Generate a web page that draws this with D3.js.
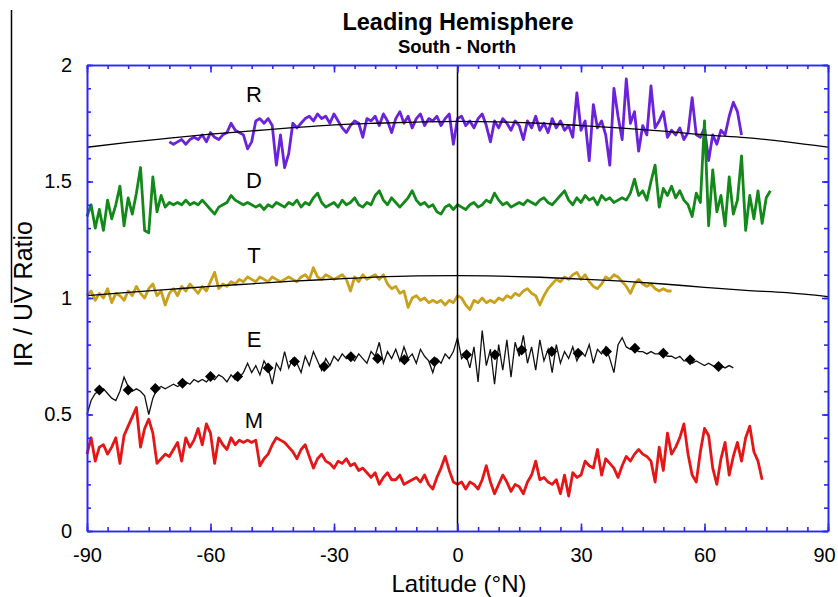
<!DOCTYPE html>
<html>
<head>
<meta charset="utf-8">
<script src="https://cdn.jsdelivr.net/npm/d3@7"></script>
<style>
  body { margin: 0; background: #fff; }
  svg { display: block; font-family: "Liberation Sans", Arial, sans-serif; }
</style>
</head>
<body>
<div id="chart-container"></div>
<script>
/**************************************************
 * Data (IR / UV ratio vs latitude, 1 deg sampling)
 **************************************************/

const rStart = -70;
const rValues = [
  1.67, 1.66, 1.67, 1.68, 1.66, 1.68, 1.69, 1.68, 1.70, 1.67,
  1.71, 1.69, 1.68, 1.70, 1.71, 1.75, 1.72, 1.71, 1.70, 1.64,
  1.67, 1.76, 1.77, 1.75, 1.77, 1.74, 1.57, 1.70, 1.56, 1.62,
  1.75, 1.73, 1.75, 1.77, 1.78, 1.76, 1.79, 1.77, 1.78, 1.75,
  1.79, 1.76, 1.73, 1.71, 1.74, 1.76, 1.75, 1.69, 1.77, 1.76,
  1.78, 1.74, 1.79, 1.76, 1.71, 1.77, 1.80, 1.75, 1.78, 1.73,
  1.77, 1.79, 1.74, 1.77, 1.76, 1.78, 1.74, 1.77, 1.79, 1.66,
  1.77, 1.78, 1.74, 1.76, 1.73, 1.77, 1.79, 1.74, 1.67, 1.76,
  1.73, 1.77, 1.75, 1.72, 1.76, 1.74, 1.68, 1.76, 1.73, 1.78,
  1.72, 1.75, 1.71, 1.77, 1.73, 1.76, 1.72, 1.74, 1.69, 1.88,
  1.72, 1.76, 1.59, 1.83, 1.73, 1.76, 1.70, 1.57, 1.90, 1.78,
  1.68, 1.94, 1.75, 1.80, 1.63, 1.74, 1.70, 1.91, 1.73, 1.76,
  1.80, 1.69, 1.72, 1.70, 1.73, 1.68, 1.71, 1.86, 1.70, 1.69,
  1.73, 1.59, 1.70, 1.66, 1.72, 1.70, 1.78, 1.84, 1.80, 1.70
];

const dStart = -90;
const dValues = [
  1.35, 1.40, 1.30, 1.38, 1.29, 1.42, 1.34, 1.40, 1.48, 1.31,
  1.43, 1.36, 1.45, 1.56, 1.29, 1.28, 1.52, 1.37, 1.44, 1.39,
  1.41, 1.40, 1.41, 1.40, 1.42, 1.40, 1.41, 1.40, 1.42, 1.40,
  1.38, 1.36, 1.39, 1.40, 1.41, 1.44, 1.42, 1.41, 1.40, 1.41,
  1.40, 1.39, 1.40, 1.38, 1.40, 1.39, 1.41, 1.40, 1.39, 1.41,
  1.40, 1.42, 1.39, 1.41, 1.40, 1.43, 1.45, 1.41, 1.39, 1.40,
  1.41, 1.39, 1.42, 1.40, 1.41, 1.43, 1.40, 1.39, 1.41, 1.40,
  1.44, 1.46, 1.42, 1.40, 1.43, 1.41, 1.39, 1.41, 1.43, 1.46,
  1.42, 1.40, 1.41, 1.39, 1.40, 1.37, 1.36, 1.39, 1.40, 1.38,
  1.40, 1.39, 1.38, 1.40, 1.41, 1.39, 1.40, 1.42, 1.41, 1.45,
  1.42, 1.40, 1.41, 1.39, 1.40, 1.41, 1.40, 1.42, 1.41, 1.40,
  1.42, 1.43, 1.41, 1.40, 1.42, 1.44, 1.46, 1.42, 1.40, 1.43,
  1.41, 1.44, 1.42, 1.43, 1.40, 1.44, 1.42, 1.43, 1.41, 1.42,
  1.43, 1.42, 1.45, 1.51, 1.44, 1.46, 1.42, 1.50, 1.57, 1.39,
  1.47, 1.44, 1.48, 1.43, 1.46, 1.42, 1.40, 1.35, 1.45, 1.41,
  1.76, 1.31, 1.55, 1.37, 1.44, 1.31, 1.52, 1.36, 1.42, 1.61,
  1.29, 1.44, 1.34, 1.46, 1.32, 1.43, 1.46
];

const tStart = -90;
const tValues = [
  1.01, 1.03, 0.99, 1.02, 1.00, 1.04, 0.98, 1.02, 1.01, 0.99,
  1.03, 1.01, 1.05, 1.02, 1.00, 1.04, 1.06, 1.01, 1.03, 0.97,
  1.02, 1.04, 1.01, 1.05, 1.03, 1.06, 1.04, 1.02, 1.05, 1.03,
  1.07, 1.11, 1.04, 1.06, 1.05, 1.07, 1.06, 1.08, 1.07, 1.09,
  1.08, 1.07, 1.09, 1.08, 1.07, 1.09, 1.08, 1.07, 1.08, 1.09,
  1.08, 1.07, 1.09, 1.10, 1.08, 1.13, 1.09, 1.08, 1.10, 1.09,
  1.08, 1.09, 1.10, 1.08, 1.03, 1.09, 1.07, 1.10, 1.08, 1.09,
  1.10, 1.08, 1.10, 1.06, 1.04, 1.05, 1.02, 1.03, 0.96, 1.00,
  1.01, 0.99, 1.00, 0.98, 0.99, 0.98, 0.99, 0.97, 0.99, 0.98,
  1.01, 1.00, 0.97, 0.95, 0.99, 0.98, 1.00, 0.98, 0.99, 0.98,
  1.00, 0.99, 1.01, 1.00, 1.02, 1.01, 1.03, 1.04, 1.02, 1.01,
  0.97, 1.01, 1.04, 1.06, 1.08, 1.07, 1.09, 1.08, 1.10, 1.11,
  1.08, 1.10, 1.07, 1.05, 1.04, 1.06, 1.09, 1.08, 1.10, 1.09,
  1.07, 1.05, 1.02, 1.06, 1.08, 1.06, 1.05, 1.06, 1.04, 1.03,
  1.04, 1.03, 1.03
];

const eStart = -90;
const eValues = [
  0.50, 0.56, 0.59, 0.60, 0.61, 0.59, 0.57, 0.56, 0.60, 0.66,
  0.62, 0.60, 0.61, 0.60, 0.58, 0.50, 0.57, 0.61, 0.62, 0.61,
  0.62, 0.63, 0.62, 0.63, 0.64, 0.63, 0.65, 0.64, 0.65, 0.64,
  0.66, 0.65, 0.67, 0.66, 0.64, 0.67, 0.65, 0.66, 0.68, 0.72,
  0.68, 0.71, 0.67, 0.73, 0.70, 0.63, 0.72, 0.69, 0.77, 0.70,
  0.74, 0.72, 0.68, 0.75, 0.71, 0.77, 0.73, 0.69, 0.74, 0.71,
  0.75, 0.73, 0.76, 0.74, 0.75, 0.73, 0.76, 0.74, 0.72, 0.77,
  0.75, 0.81, 0.72, 0.77, 0.74, 0.78, 0.73, 0.79, 0.74, 0.76,
  0.72, 0.78, 0.75, 0.73, 0.68, 0.74, 0.72, 0.76, 0.74, 0.77,
  0.83, 0.74, 0.76, 0.70, 0.79, 0.64, 0.86, 0.71, 0.78, 0.63,
  0.80, 0.69, 0.82, 0.66, 0.81, 0.75, 0.84, 0.72, 0.79, 0.69,
  0.82, 0.73, 0.78, 0.68, 0.80, 0.72, 0.77, 0.74, 0.79, 0.73,
  0.77, 0.75, 0.80, 0.72, 0.78, 0.76, 0.79, 0.74, 0.68, 0.80,
  0.83, 0.79, 0.78, 0.78, 0.77, 0.77, 0.76, 0.77, 0.76, 0.76,
  0.76, 0.75, 0.75, 0.74, 0.75, 0.73, 0.73, 0.72, 0.73, 0.72,
  0.71, 0.72, 0.71, 0.70, 0.71, 0.70, 0.71, 0.70
];

// diamond markers on E
const eMarkLat = [-87, -80, -73.4, -66.8, -60, -53.4, -46, -39.6, -32.4, -25.9, -19.4, -12.9, -5.6,
                  2.2, 9.1, 15.6, 22.9, 29.3, 36.2, 43.1, 50, 56.5, 63.4];
const eMarkVal = [0.605, 0.605, 0.612, 0.634, 0.663, 0.663, 0.70, 0.727, 0.706, 0.748, 0.74, 0.735, 0.727,
                  0.756, 0.756, 0.777, 0.77, 0.763, 0.77, 0.784, 0.763, 0.735, 0.706];

const mStart = -90;
const mValues = [
  0.33, 0.40, 0.30, 0.36, 0.37, 0.33, 0.36, 0.40, 0.29, 0.41,
  0.45, 0.49, 0.53, 0.36, 0.44, 0.48, 0.42, 0.29, 0.31, 0.33,
  0.32, 0.35, 0.38, 0.30, 0.40, 0.36, 0.39, 0.44, 0.37, 0.46,
  0.42, 0.29, 0.40, 0.37, 0.35, 0.40, 0.37, 0.39, 0.38, 0.39,
  0.38, 0.39, 0.28, 0.31, 0.33, 0.37, 0.40, 0.39, 0.38, 0.36,
  0.34, 0.31, 0.35, 0.37, 0.32, 0.27, 0.31, 0.33, 0.30, 0.29,
  0.27, 0.30, 0.29, 0.31, 0.28, 0.29, 0.26, 0.27, 0.25, 0.23,
  0.25, 0.20, 0.23, 0.25, 0.22, 0.22, 0.24, 0.20, 0.21, 0.22,
  0.23, 0.21, 0.24, 0.20, 0.18, 0.23, 0.27, 0.32, 0.26, 0.21,
  0.20, 0.21, 0.18, 0.21, 0.20, 0.18, 0.22, 0.28, 0.21, 0.16,
  0.20, 0.24, 0.21, 0.17, 0.20, 0.19, 0.16, 0.21, 0.24, 0.30,
  0.22, 0.23, 0.21, 0.20, 0.22, 0.16, 0.24, 0.15, 0.25, 0.23,
  0.24, 0.30, 0.28, 0.27, 0.35, 0.24, 0.31, 0.29, 0.27, 0.23,
  0.28, 0.32, 0.30, 0.33, 0.35, 0.33, 0.32, 0.30, 0.21, 0.36,
  0.26, 0.42, 0.33, 0.36, 0.40, 0.46, 0.33, 0.24, 0.21, 0.34,
  0.44, 0.41, 0.27, 0.20, 0.31, 0.38, 0.24, 0.32, 0.38, 0.30,
  0.40, 0.45, 0.34, 0.30, 0.22
];

// smooth model curves through R and T
const fitLat = [-90, -80, -70, -60, -50, -40, -30, -20, -10, 0, 10, 20, 30, 40, 50, 60, 70, 80, 90];
const rFit = [1.647, 1.668, 1.686, 1.703, 1.717, 1.731, 1.743, 1.750, 1.755, 1.758,
              1.756, 1.750, 1.740, 1.729, 1.716, 1.700, 1.688, 1.670, 1.647];
const tFit = [1.010, 1.024, 1.037, 1.050, 1.061, 1.072, 1.081, 1.090, 1.095, 1.096,
              1.094, 1.089, 1.081, 1.072, 1.060, 1.046, 1.033, 1.023, 1.006];

const seriesNames = ["R", "D", "T", "E", "M"];
const seriesLabelY = [1.84, 1.47, 1.15, 0.79, 0.44];

const xMajorTicks = [-90, -60, -30, 0, 30, 60, 90];
const yMajorTicks = [0, 0.5, 1, 1.5, 2];

/**************************************************
 * Rendering
 **************************************************/

const width = 838, height = 597;
const plotLeft = 87, plotRight = 828, plotTop = 65, plotBottom = 531;
const axisBlue = "#2a2af0";

const svg = d3.select("#chart-container")
  .append("svg")
  .attr("width", width)
  .attr("height", height);

const x = d3.scaleLinear().domain([-90, 90]).range([plotLeft, plotRight]);
const y = d3.scaleLinear().domain([0, 2]).range([plotBottom, plotTop]);

const toPoints = (start, vals) => vals.map((v, i) => [start + i, v]);

// stray frame line at far left of the scan
svg.append("line")
  .attr("x1", 11.5).attr("x2", 11.5)
  .attr("y1", 10).attr("y2", 303)
  .attr("stroke", "#000")
  .attr("stroke-width", 1.5);

// titles
svg.append("text")
  .attr("x", 458)
  .attr("y", 30)
  .attr("text-anchor", "middle")
  .attr("font-weight", "bold")
  .attr("font-size", "23.5px")
  .text("Leading Hemisphere");

svg.append("text")
  .attr("x", 457)
  .attr("y", 52.5)
  .attr("text-anchor", "middle")
  .attr("font-weight", "bold")
  .attr("font-size", "18.5px")
  .text("South - North");

// data lines
const dataLine = d3.line()
  .x(d => x(d[0]))
  .y(d => y(d[1]));

const colored = [
  { pts: toPoints(rStart, rValues), color: "#6a22da" },
  { pts: toPoints(dStart, dValues), color: "#13891a" },
  { pts: toPoints(tStart, tValues), color: "#c9a11c" },
  { pts: toPoints(mStart, mValues), color: "#e51616" }
];

colored.forEach(s => {
  svg.append("path")
    .datum(s.pts)
    .attr("fill", "none")
    .attr("stroke", s.color)
    .attr("stroke-width", 2.8)
    .attr("stroke-linejoin", "round")
    .attr("d", dataLine);
});

// E: thin black line + diamonds
svg.append("path")
  .datum(toPoints(eStart, eValues))
  .attr("fill", "none")
  .attr("stroke", "#111")
  .attr("stroke-width", 1.3)
  .attr("d", dataLine);

const diamond = d3.symbol(d3.symbolSquare, 60);
eMarkLat.forEach((lat, i) => {
  svg.append("path")
    .attr("d", diamond())
    .attr("transform", `translate(${x(lat)},${y(eMarkVal[i])}) rotate(45)`)
    .attr("fill", "#000");
});

// model curves
const fitLine = d3.line()
  .x((d, i) => x(fitLat[i]))
  .y(d => y(d))
  .curve(d3.curveMonotoneX);

[rFit, tFit].forEach(f => {
  svg.append("path")
    .datum(f)
    .attr("fill", "none")
    .attr("stroke", "#000")
    .attr("stroke-width", 1.3)
    .attr("d", fitLine);
});

// equator line
svg.append("line")
  .attr("x1", x(0)).attr("x2", x(0))
  .attr("y1", plotTop).attr("y2", plotBottom)
  .attr("stroke", "#000")
  .attr("stroke-width", 1.5);

// series letters
seriesNames.forEach((name, i) => {
  svg.append("text")
    .attr("x", 254)
    .attr("y", y(seriesLabelY[i]))
    .attr("text-anchor", "middle")
    .attr("font-size", "22px")
    .text(name);
});

/**************************************************
 * Axes (ticks point inward on all four sides)
 **************************************************/

function styleAxis(g) {
  g.attr("font-family", null).attr("font-size", null);
  g.select(".domain").attr("stroke", axisBlue).attr("stroke-width", 1.6);
  g.selectAll(".tick line").attr("stroke", axisBlue).attr("stroke-width", 1.6);
  g.selectAll(".tick text").attr("fill", "#000").attr("font-size", "20px");
}

const xMinor = d3.range(-90, 91, 5);
const yMinor = d3.range(0, 21).map(d => d / 10);

// bottom
svg.append("g")
  .attr("transform", `translate(0,${plotBottom})`)
  .call(d3.axisBottom(x).tickValues(xMinor).tickSize(-4).tickSizeOuter(0).tickFormat(""))
  .call(styleAxis);
svg.append("g")
  .attr("transform", `translate(0,${plotBottom})`)
  .call(d3.axisBottom(x).tickValues(xMajorTicks).tickSize(-7.5).tickSizeOuter(0)
    .tickPadding(16.5).tickFormat(d => String(d)))
  .call(styleAxis)
  .call(g => g.selectAll(".tick text").filter(d => d === 90).attr("dx", -4));

// top
svg.append("g")
  .attr("transform", `translate(0,${plotTop})`)
  .call(d3.axisTop(x).tickValues(xMinor).tickSize(-4).tickSizeOuter(0).tickFormat(""))
  .call(styleAxis);
svg.append("g")
  .attr("transform", `translate(0,${plotTop})`)
  .call(d3.axisTop(x).tickValues(xMajorTicks).tickSize(-7.5).tickSizeOuter(0).tickFormat(""))
  .call(styleAxis);

// left
svg.append("g")
  .attr("transform", `translate(${plotLeft},0)`)
  .call(d3.axisLeft(y).tickValues(yMinor).tickSize(-4).tickSizeOuter(0).tickFormat(""))
  .call(styleAxis);
svg.append("g")
  .attr("transform", `translate(${plotLeft},0)`)
  .call(d3.axisLeft(y).tickValues(yMajorTicks).tickSize(-6).tickSizeOuter(0)
    .tickPadding(15).tickFormat(d => String(d)))
  .call(styleAxis);

// right
svg.append("g")
  .attr("transform", `translate(${plotRight},0)`)
  .call(d3.axisRight(y).tickValues(yMinor).tickSize(-4).tickSizeOuter(0).tickFormat(""))
  .call(styleAxis);
svg.append("g")
  .attr("transform", `translate(${plotRight},0)`)
  .call(d3.axisRight(y).tickValues(yMajorTicks).tickSize(-6).tickSizeOuter(0).tickFormat(""))
  .call(styleAxis);

// axis titles
svg.append("text")
  .attr("x", 459)
  .attr("y", 592)
  .attr("text-anchor", "middle")
  .attr("font-size", "24px")
  .text("Latitude (°N)");

svg.append("text")
  .attr("transform", "translate(32,294) rotate(-90)")
  .attr("text-anchor", "middle")
  .attr("font-size", "25px")
  .text("IR / UV Ratio");
</script>
</body>
</html>
